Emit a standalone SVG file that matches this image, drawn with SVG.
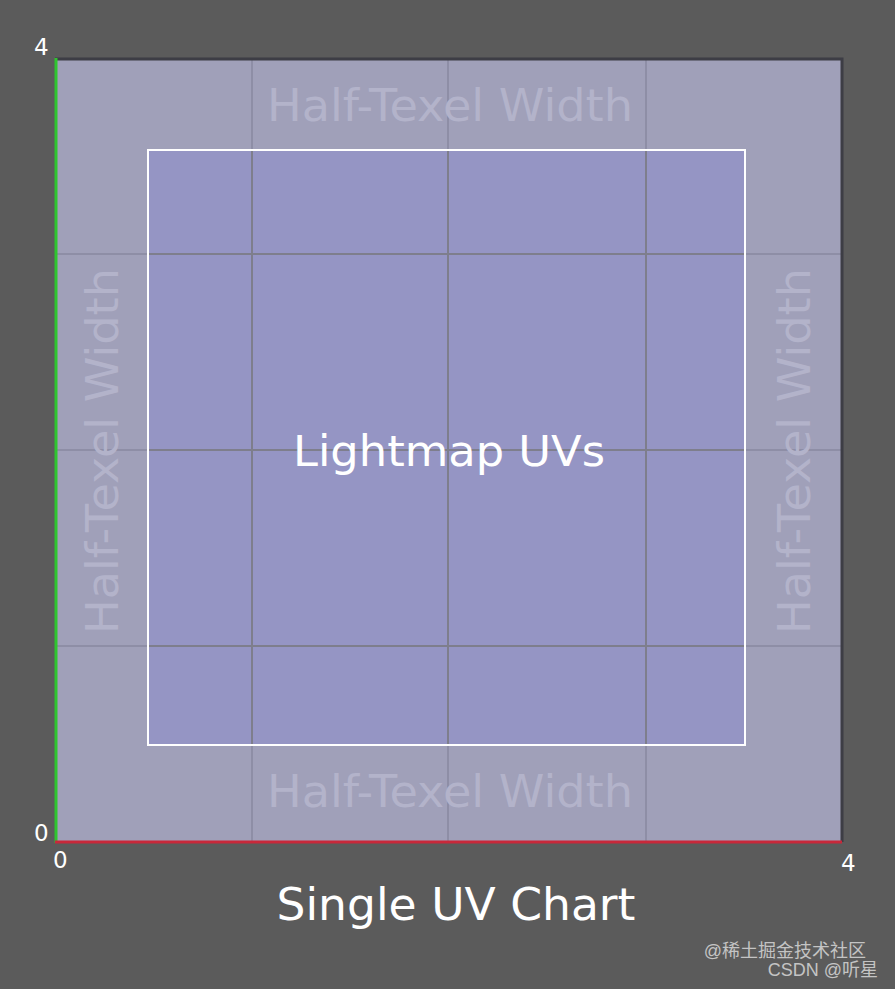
<svg xmlns="http://www.w3.org/2000/svg" width="895" height="989" viewBox="0 0 895 989">
<style>
.t{font-family:"DejaVu Sans",Verdana,sans-serif}
.ghost{fill:#b3b3ca;font-size:44px;text-anchor:middle}
.num{fill:#ffffff;font-size:23px}
.gin{stroke:#7e7e8c;stroke-width:2}
.gout{stroke:#8e8ea6;stroke-width:2}
</style>
<rect width="895" height="989" fill="#5b5b5b"/>
<g id="chart">
<rect x="55" y="58" width="787" height="784" fill="#a0a0b9"/>
<rect x="148" y="150" width="597" height="595" fill="#9595c4"/>
</g>
<g id="grid">
<line class="gout" x1="252" y1="58" x2="252" y2="842"/>
<line class="gout" x1="448" y1="58" x2="448" y2="842"/>
<line class="gout" x1="646" y1="58" x2="646" y2="842"/>
<line class="gout" x1="55" y1="254" x2="842" y2="254"/>
<line class="gout" x1="55" y1="450" x2="842" y2="450"/>
<line class="gout" x1="55" y1="646" x2="842" y2="646"/>
<line class="gin" x1="252" y1="150" x2="252" y2="745"/>
<line class="gin" x1="448" y1="150" x2="448" y2="745"/>
<line class="gin" x1="646" y1="150" x2="646" y2="745"/>
<line class="gin" x1="148" y1="254" x2="745" y2="254"/>
<line class="gin" x1="148" y1="450" x2="745" y2="450"/>
<line class="gin" x1="148" y1="646" x2="745" y2="646"/>
</g>
<g id="borders">
<polyline points="55,59 842,59 842,842" fill="none" stroke="#3d3d45" stroke-width="3"/>
<line x1="56" y1="58" x2="56" y2="843" stroke="#2fc42f" stroke-width="3"/>
<line x1="55" y1="842" x2="842" y2="842" stroke="#c8283a" stroke-width="3"/>
</g>
<g id="uvs">
<rect x="148" y="150" width="597" height="595" fill="none" stroke="#ffffff" stroke-width="2"/>
<text class="t" x="449" y="466" fill="#ffffff" font-size="42" text-anchor="middle" textLength="312" lengthAdjust="spacingAndGlyphs">Lightmap UVs</text>
</g>
<g id="labels">
<text class="t ghost" x="450" y="121" textLength="366" lengthAdjust="spacingAndGlyphs">Half-Texel Width</text>
<text class="t ghost" x="450" y="807" textLength="366" lengthAdjust="spacingAndGlyphs">Half-Texel Width</text>
<text class="t ghost" transform="translate(118,451) rotate(-90)" textLength="366" lengthAdjust="spacingAndGlyphs">Half-Texel Width</text>
<text class="t ghost" transform="translate(810,451) rotate(-90)" textLength="366" lengthAdjust="spacingAndGlyphs">Half-Texel Width</text>
<text class="t num" x="34" y="55">4</text>
<text class="t num" x="34" y="841">0</text>
<text class="t num" x="53" y="868">0</text>
<text class="t num" x="841" y="871">4</text>
<text class="t" x="456" y="920" fill="#ffffff" font-size="44" text-anchor="middle" textLength="359" lengthAdjust="spacingAndGlyphs">Single UV Chart</text>
</g>
<g id="watermark" font-family="'Liberation Sans','Noto Sans CJK SC',sans-serif" font-size="18" fill="#c4c4c4" text-anchor="end">
<text x="866" y="957">@稀土掘金技术社区</text>
<text x="878" y="976">CSDN @听星</text>
</g>
</svg>
